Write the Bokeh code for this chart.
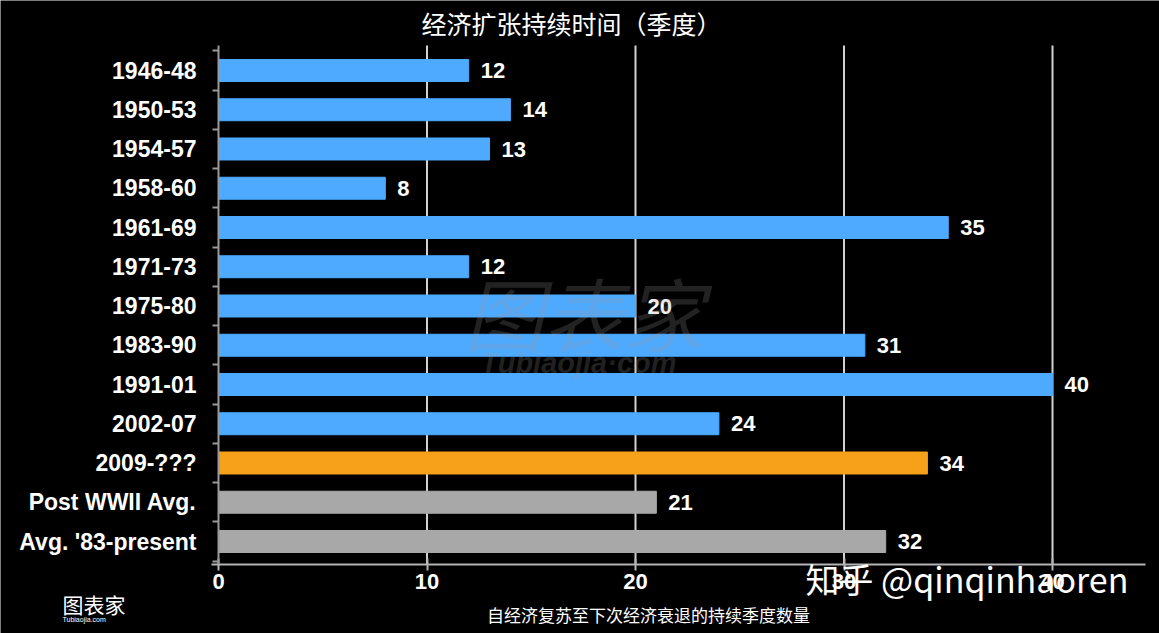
from bokeh.plotting import figure
from bokeh.models import ColumnDataSource, FixedTicker, Label
from bokeh.core.properties import value
from bokeh.embed import file_html
from bokeh.resources import INLINE

# ---- data ----
periods = ["1946-48", "1950-53", "1954-57", "1958-60", "1961-69", "1971-73",
           "1975-80", "1983-90", "1991-01", "2002-07", "2009-???",
           "Post WWII Avg.", "Avg. '83-present"]
quarters = [12, 14, 13, 8, 35, 12, 20, 31, 40, 24, 34, 21, 32]
groups = ["past"] * 10 + ["current"] + ["average"] * 2
x_ticks = [0, 10, 20, 30, 40]

title_text = "经济扩张持续时间（季度）"
caption_text = "自经济复苏至下次经济衰退的持续季度数量"
watermark_text = "知乎 @qinqinhaoren"

palette = {"past": "#4DAAFF", "current": "#F7A11A", "average": "#A8A8A8"}

n = len(periods)
ypos = [n - 1 - i for i in range(n)]
src = ColumnDataSource(dict(
    y=ypos, v=quarters, label=[str(q) for q in quarters],
    color=[palette[g] for g in groups],
))

W, H = 1159, 633
PX_X = 20.85   # pixels per quarter
PX_Y = 39.25   # pixels per category
X0, Y0 = 218, 70  # pixel of x=0 and of first category


def sx(x):
    return (x - X0) / PX_X


def sy(y):
    return (n - 1) - (y - Y0) / PX_Y


p = figure(width=W, height=H, output_backend="svg", toolbar_location=None,
           x_range=(sx(0), sx(W)), y_range=(sy(H), sy(0)),
           min_border=0, min_border_left=0, min_border_right=0,
           min_border_top=0, min_border_bottom=0)
p.background_fill_color = "black"
p.border_fill_color = "black"
p.outline_line_color = None

axis_bottom = sy(564)
axis_top = sy(45)

# vertical grid lines limited to the plotting area
grid_x = x_ticks[1:]
p.xgrid.grid_line_color = None
p.ygrid.grid_line_color = None
p.segment(x0=grid_x, x1=grid_x, y0=[axis_bottom] * len(grid_x),
          y1=[axis_top] * len(grid_x), line_color="#D2D2D2", line_width=2)

p.hbar(y="y", right="v", left=0, height=0.56, color="color", source=src)

p.text(x="v", y="y", text="label", source=src, x_offset=12,
       text_baseline="middle", text_align="left", text_color="white",
       text_font=value("Liberation Sans"), text_font_style="bold",
       text_font_size="22px")

# x axis
xa = p.xaxis[0]
xa.fixed_location = axis_bottom
xa.bounds = (sx(211), sx(1145))
xa.ticker = FixedTicker(ticks=x_ticks, minor_ticks=[])
xa.axis_line_color = "#B4B4B4"
xa.axis_line_width = 2
xa.major_tick_line_color = "#B4B4B4"
xa.major_tick_line_width = 2
xa.major_tick_in = 6
xa.major_tick_out = 6
xa.major_label_standoff = 3
xa.major_label_text_color = "white"
xa.major_label_text_font = "Liberation Sans"
xa.major_label_text_font_style = "bold"
xa.major_label_text_font_size = "22px"

# y axis
ya = p.yaxis[0]
ya.fixed_location = 0
ya.bounds = (axis_bottom, axis_top)
ya.ticker = FixedTicker(ticks=ypos, minor_ticks=[i + 0.5 for i in range(-1, n)])
ya.major_label_overrides = {y: lab for y, lab in zip(ypos, periods)}
ya.axis_line_color = "#9A9A9A"
ya.axis_line_width = 2
ya.major_tick_in = 0
ya.major_tick_out = 0
ya.minor_tick_in = 0
ya.minor_tick_out = 6
ya.minor_tick_line_color = "#9A9A9A"
ya.minor_tick_line_width = 2
ya.major_label_standoff = 16
ya.major_label_text_color = "white"
ya.major_label_text_font = "Liberation Sans"
ya.major_label_text_font_style = "bold"
ya.major_label_text_font_size = "23px"

cjk = "Noto Sans CJK SC"
p.add_layout(Label(x=sx(571), y=sy(22), text=title_text, text_color="white",
                   text_font=cjk, text_font_size="25px", text_align="center",
                   text_baseline="middle"))
p.add_layout(Label(x=sx(648), y=sy(614), text=caption_text, text_color="white",
                   text_font=cjk, text_font_size="17px", text_align="center",
                   text_baseline="middle"))
p.add_layout(Label(x=sx(805), y=sy(578), text=watermark_text, text_color="white",
                   text_font=cjk, text_font_size="34px", text_align="left",
                   text_baseline="middle"))
# faint centre watermark
p.add_layout(Label(x=sx(583), y=sy(310), text="图表家", text_color="#9A9A9A",
                   text_alpha=0.22, text_font=cjk, text_font_size="80px",
                   text_font_style="italic", text_align="center",
                   text_baseline="middle"))
p.add_layout(Label(x=sx(578), y=sy(362), text="Tubiaojia·com", text_color="#9A9A9A",
                   text_alpha=0.22, text_font="Liberation Sans",
                   text_font_size="29px", text_font_style="bold italic",
                   text_align="center", text_baseline="middle"))
# bottom-left logo
p.add_layout(Label(x=sx(62), y=sy(603), text="图表家", text_color="white",
                   text_font=cjk, text_font_size="21px", text_align="left",
                   text_baseline="middle"))
p.add_layout(Label(x=sx(62), y=sy(619), text="Tubiaojia.com", text_color="white",
                   text_font="Liberation Sans", text_font_size="7px",
                   text_align="left", text_baseline="middle"))

html = file_html(p, INLINE)
html = html.replace("<body>", '<body style="background:#000000;margin:0;overflow:hidden;">', 1)
open("out.html", "w").write(html)
